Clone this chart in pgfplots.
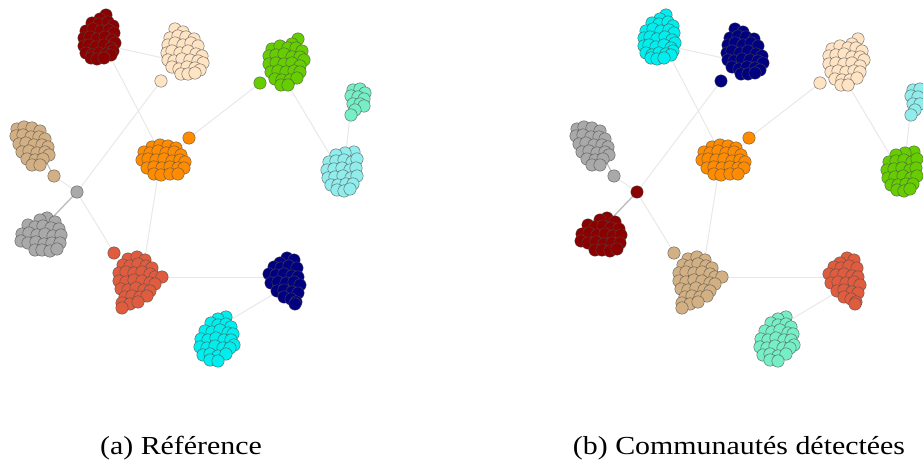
\documentclass[border=0pt]{standalone}
\usepackage{pgfplots}
\pgfplotsset{compat=1.18}
\usepackage{pgfplotstable}
\usepackage{graphicx}
\usepackage{fontspec}
\setmainfont{Liberation Serif}

\definecolor{kDR}{RGB}{139,0,0}
\definecolor{kBQ}{RGB}{255,228,196}
\definecolor{kGR}{RGB}{102,205,0}
\definecolor{kAQ}{RGB}{118,238,198}
\definecolor{kPT}{RGB}{145,236,236}
\definecolor{kTN}{RGB}{210,176,132}
\definecolor{kOR}{RGB}{255,140,0}
\definecolor{kGY}{RGB}{169,169,169}
\definecolor{kTO}{RGB}{224,92,62}
\definecolor{kNV}{RGB}{0,0,128}
\definecolor{kCY}{RGB}{0,238,238}
\definecolor{kEdge}{RGB}{232,232,232}

% cluster node positions (pixel coordinates of the layout, y downwards)
\pgfplotstableread{
x y
106 15
100 19
92 23
99 24
108 22
113 26
86 31
93 29
101 31
109 30
114 33
84 38
90 37
97 39
105 37
112 40
115 43
84 46
89 45
96 47
104 45
111 48
113 51
86 53
92 55
99 53
106 54
111 55
91 58
97 59
104 58
}\tA
\pgfplotstableread{
x y
175 29
183 32
170 38
178 36
186 37
194 39
168 45
175 43
183 45
191 43
198 46
167 53
172 51
180 53
188 51
196 54
202 56
168 60
174 61
182 59
190 60
198 61
203 63
172 67
179 69
187 67
195 68
200 70
181 74
188 74
195 73
161 81
}\tB
\pgfplotstableread{
x y
298 39
292 44
272 49
280 46
288 48
296 48
302 51
269 56
276 55
284 54
292 57
300 57
304 60
269 64
276 63
284 64
292 63
300 66
271 72
278 71
286 72
294 71
300 72
275 79
282 80
290 80
297 78
281 85
288 85
260 83
}\tC
\pgfplotstableread{
x y
353 90
360 89
365 93
351 96
358 97
364 99
353 104
360 104
364 106
355 110
351 115
}\tD
\pgfplotstableread{
x y
354 152
345 153
336 155
329 162
336 161
344 160
352 162
357 159
327 170
334 169
342 168
350 170
356 168
328 178
335 177
343 176
351 178
357 176
331 185
338 185
346 184
353 184
337 190
344 191
350 189
}\tE
\pgfplotstableread{
x y
17 129
24 127
32 128
40 131
16 136
23 135
31 137
39 137
45 139
19 144
26 143
34 145
42 145
48 147
22 152
29 151
37 153
45 152
49 155
27 159
35 160
43 159
32 165
40 165
54 176
}\tF
\pgfplotstableread{
x y
152 147
160 145
168 146
176 148
144 152
150 153
158 151
166 153
174 152
181 155
142 160
148 159
156 160
164 159
172 161
180 160
185 162
147 168
154 167
162 168
170 167
178 168
184 168
154 174
161 175
170 174
178 174
189 138
}\tG
\pgfplotstableread{
x y
77 192
}\tH
\pgfplotstableread{
x y
47 218
40 220
55 222
28 225
35 227
43 226
51 228
59 229
22 234
29 233
37 235
45 234
53 236
61 235
21 241
28 243
36 242
44 244
52 243
60 243
35 250
42 250
50 251
57 249
}\tI
\pgfplotstableread{
x y
114 253
128 259
137 257
145 260
123 265
130 266
138 264
146 266
152 268
119 273
126 272
134 273
142 272
150 274
155 277
162 277
119 281
126 282
134 280
142 281
150 283
155 284
121 289
128 290
136 288
144 290
150 291
125 297
132 296
140 297
147 296
122 303
130 304
138 302
122 308
}\tJ
\pgfplotstableread{
x y
287 258
294 260
280 263
274 267
281 268
289 266
297 268
269 274
276 275
284 274
292 276
298 277
271 283
278 282
286 283
294 282
300 285
277 291
284 290
292 292
298 293
284 297
291 299
296 302
295 304
}\tK
\pgfplotstableread{
x y
226 317
218 319
211 323
218 325
226 324
231 327
205 331
212 332
220 330
228 333
233 334
201 339
208 340
216 338
224 340
231 340
234 345
200 347
207 348
215 346
223 348
230 348
203 355
210 354
218 356
226 354
210 360
218 361
}\tL

\pgfplotsset{
  edge/.style={draw=kEdge, line width=1pt, no markers},
  nd/.style={only marks, mark=*, mark size=6.2pt,
    mark options={fill=#1, draw=black!70, line width=0.35pt}},
  net/.style={x=1pt, y=1pt, y dir=reverse, ymin=0, ymax=461,
    hide axis, scale only axis, clip marker paths=true, anchor=north west},
}

\newcommand\netplots{%
  \addplot[edge] coordinates {(118,48) (163,58)};
  \addplot[edge] coordinates {(112,60) (156,145)};
  \addplot[edge] coordinates {(161,81) (77,192)};
  \addplot[edge] coordinates {(260,83) (189,138)};
  \addplot[edge] coordinates {(189,138) (178,150)};
  \addplot[edge] coordinates {(290,88) (330,155)};
  \addplot[edge] coordinates {(350,115) (346,152)};
  \addplot[draw=black!25, line width=1.2pt, no markers] coordinates {(45,160) (54,176)};
  \addplot[edge] coordinates {(54,176) (77,192)};
  \addplot[draw=black!25, line width=1.4pt, no markers] coordinates {(77,192) (50,220)};
  \addplot[edge] coordinates {(77,192) (114,253)};
  \addplot[edge] coordinates {(158,175) (145,258)};
  \addplot[edge] coordinates {(162,277) (268,277)};
  \addplot[edge] coordinates {(272,295) (230,320)};
  \addplot[nd=cA] table {\tA};
  \addplot[nd=cB] table {\tB};
  \addplot[nd=cC] table {\tC};
  \addplot[nd=cD] table {\tD};
  \addplot[nd=cE] table {\tE};
  \addplot[nd=cF] table {\tF};
  \addplot[nd=cG] table {\tG};
  \addplot[nd=cH] table {\tH};
  \addplot[nd=cI] table {\tI};
  \addplot[nd=cJ] table {\tJ};
  \addplot[nd=cK] table {\tK};
  \addplot[nd=cL] table {\tL};
}

\begin{document}
\begin{tikzpicture}
\useasboundingbox (0,0) rectangle (923pt,-461pt);
% (a) reference colouring
\colorlet{cA}{kDR}\colorlet{cB}{kBQ}\colorlet{cC}{kGR}\colorlet{cD}{kAQ}
\colorlet{cE}{kPT}\colorlet{cF}{kTN}\colorlet{cG}{kOR}\colorlet{cH}{kGY}
\colorlet{cI}{kGY}\colorlet{cJ}{kTO}\colorlet{cK}{kNV}\colorlet{cL}{kCY}
\begin{axis}[net, at={(0pt,0pt)}, xmin=0, xmax=560]
\netplots
\end{axis}
% (b) detected communities
\colorlet{cA}{kCY}\colorlet{cB}{kNV}\colorlet{cC}{kBQ}\colorlet{cD}{kPT}
\colorlet{cE}{kGR}\colorlet{cF}{kGY}\colorlet{cG}{kOR}\colorlet{cH}{kDR}
\colorlet{cI}{kDR}\colorlet{cJ}{kTN}\colorlet{cK}{kTO}\colorlet{cL}{kAQ}
\begin{axis}[net, at={(560pt,0pt)}, xmin=0, xmax=363]
\netplots
\end{axis}
\node[anchor=base, inner sep=0pt] at (181pt,-454pt) {\scalebox{1.15}[1]{\fontsize{26}{30}\selectfont (a) Référence}};
\node[anchor=base, inner sep=0pt] at (739pt,-454pt) {\scalebox{1.15}[1]{\fontsize{26}{30}\selectfont (b) Communautés détectées}};
\end{tikzpicture}
\end{document}
